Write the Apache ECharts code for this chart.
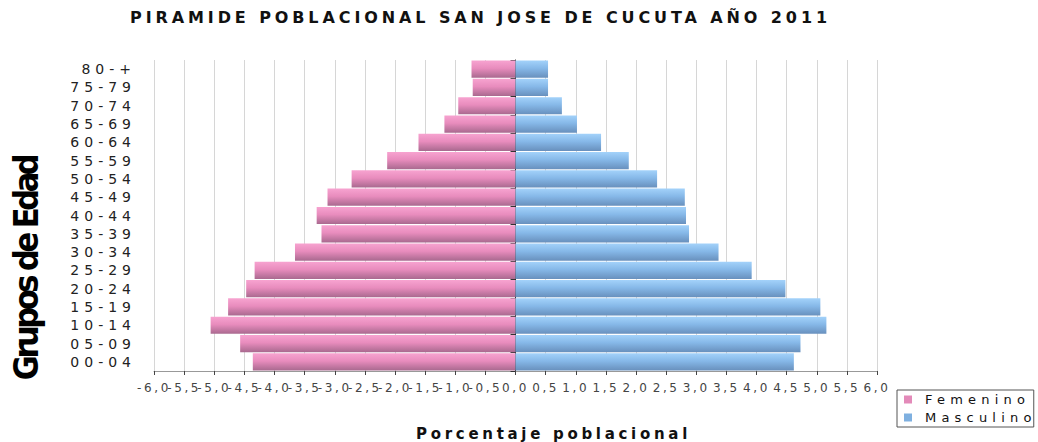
<!DOCTYPE html>
<html lang="es">
<head>
<meta charset="UTF-8">
<title>Piramide poblacional Cucuta 2011</title>
<style>
    html, body { margin: 0; padding: 0; background: #fff; }
    #main { width: 1038px; height: 442px; }
    /* the original picture is stretched sideways, so the texts get letter spacing by font size */
    #main text[style*="16px"] { letter-spacing: 3.9px; }
    #main text[style*="15px"] { letter-spacing: 3.7px; }
    #main text[style*="14px"] { letter-spacing: 5px; }
    #main text[style*="13px"] { letter-spacing: 5.2px; }
    #main text[style*="12px"] { letter-spacing: 2.6px; }
    #main text[style*="34px"] { letter-spacing: -3.5px; }
</style>
</head>
<body>
<div id="main"></div>
<script src="https://cdn.jsdelivr.net/npm/echarts@6/dist/echarts.min.js"></script>
<script>
    // grupos de edad, de abajo hacia arriba
    var grupos = ['00-04', '05-09', '10-14', '15-19', '20-24', '25-29', '30-34', '35-39', '40-44',
        '45-49', '50-54', '55-59', '60-64', '65-69', '70-74', '75-79', '80-+'];
    // porcentaje poblacional (mujeres a la izquierda, en negativo)
    var femenino = [-4.36, -4.57, -5.06, -4.77, -4.47, -4.33, -3.66, -3.22, -3.30,
        -3.12, -2.72, -2.13, -1.61, -1.18, -0.95, -0.71, -0.73];
    var masculino = [4.62, 4.73, 5.16, 5.06, 4.48, 3.92, 3.37, 2.88, 2.83,
        2.81, 2.35, 1.88, 1.42, 1.02, 0.77, 0.54, 0.54];

    var FONT = 'DejaVu Sans, Liberation Sans, sans-serif';

    var chart = echarts.init(document.getElementById('main'), null, {renderer: 'svg'});

    function grad(top, mid, bottom) {
        return new echarts.graphic.LinearGradient(0, 0, 0, 1, [
            {offset: 0, color: top},
            {offset: 0.45, color: mid},
            {offset: 1, color: bottom}
        ]);
    }

    var option = {
        backgroundColor: '#fff',
        animation: false,
        title: {
            text: 'PIRAMIDE POBLACIONAL SAN JOSE DE CUCUTA AÑO 2011',
            left: 125,
            top: 4,
            textStyle: {fontFamily: FONT, fontSize: 16, fontWeight: 'bold', color: '#111'}
        },
        legend: {
            orient: 'vertical',
            left: 897,
            top: 390,
            padding: [3, 44, 3, 7],
            itemGap: 5,
            itemWidth: 8,
            itemHeight: 8,
            icon: 'rect',
            borderColor: '#555',
            borderWidth: 1,
            borderRadius: 0,
            textStyle: {fontFamily: FONT, fontSize: 13, color: '#111', padding: [0, 0, 0, 8]},
            data: [
                {name: 'Femenino', itemStyle: {color: '#e38ab9'}},
                {name: 'Masculino', itemStyle: {color: '#7fb0e0'}}
            ]
        },
        grid: {left: 154, right: 161, top: 60, bottom: 71, outerBoundsMode: 'none'},
        xAxis: {
            type: 'value',
            min: -6,
            max: 6,
            interval: 0.5,
            name: 'Porcentaje poblacional',
            nameLocation: 'middle',
            nameGap: 55,
            nameTextStyle: {fontFamily: FONT, fontSize: 15, fontWeight: 'bold', color: '#111', padding: [0, 0, 0, 76]},
            axisLine: {show: true, lineStyle: {color: '#999'}},
            axisTick: {show: true, length: 4, lineStyle: {color: '#444'}},
            axisLabel: {
                fontFamily: FONT, fontSize: 12, color: '#444', margin: 11, hideOverlap: false,
                formatter: function (v) { return v.toFixed(1).replace('.', ','); }
            },
            splitLine: {show: true, lineStyle: {color: '#d6d6d6'}}
        },
        yAxis: [
            {
                // eje en el cero, solo linea y marcas
                type: 'category',
                data: grupos,
                axisLine: {show: true, onZero: true, lineStyle: {color: '#222'}},
                axisTick: {show: true, length: 5, lineStyle: {color: '#333'}},
                axisLabel: {show: false},
                splitLine: {show: false}
            },
            {
                // etiquetas de los grupos a la izquierda
                type: 'category',
                position: 'left',
                data: grupos,
                name: 'Grupos de Edad',
                nameLocation: 'middle',
                nameRotate: 90,
                nameGap: 111,
                nameTextStyle: {
                    fontFamily: 'Liberation Sans Narrow, DejaVu Sans Condensed, sans-serif',
                    fontSize: 34, fontWeight: 'bold', color: '#000', padding: [0, 106, 0, 0]
                },
                axisLine: {show: false, onZero: false},
                axisTick: {show: false},
                axisLabel: {fontFamily: FONT, fontSize: 14, color: '#222', margin: 18},
                splitLine: {show: false}
            }
        ],
        series: [
            {
                name: 'Femenino',
                type: 'bar',
                stack: 'piramide',
                barCategoryGap: '6%',
                itemStyle: {color: grad('#f7a3d0', '#e88cbd', '#a9698f')},
                data: femenino
            },
            {
                name: 'Masculino',
                type: 'bar',
                stack: 'piramide',
                barCategoryGap: '6%',
                itemStyle: {color: grad('#a3d2fa', '#86b8e8', '#6890bd')},
                data: masculino
            }
        ]
    };

    chart.setOption(option);
</script>
</body>
</html>
